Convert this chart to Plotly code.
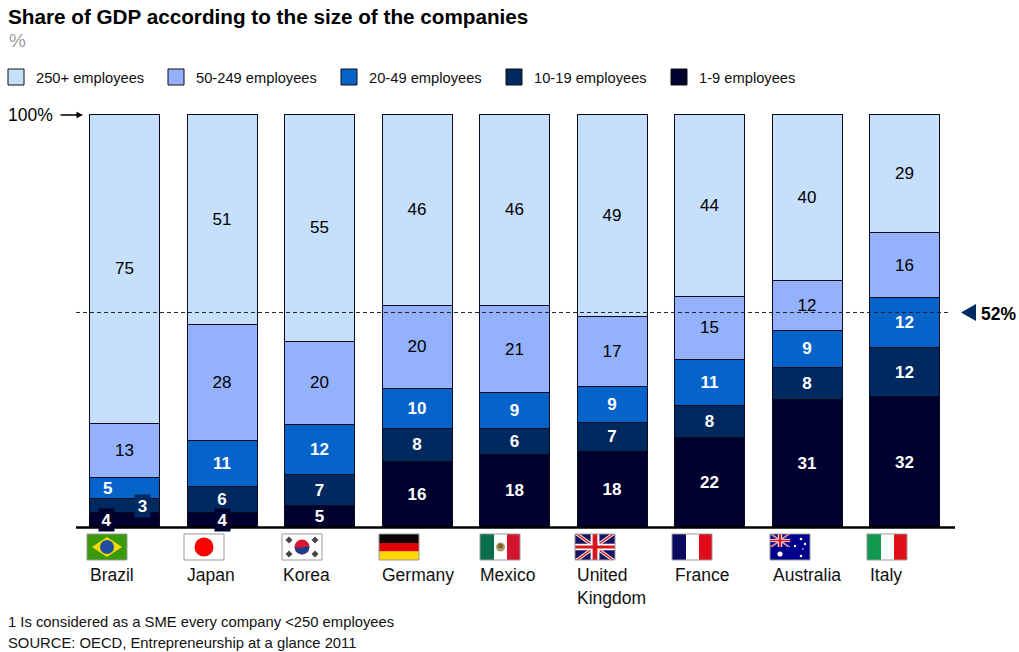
import plotly.graph_objects as go

W, H = 1019, 652

countries = ["Brazil", "Japan", "Korea", "Germany", "Mexico", "United Kingdom", "France", "Australia", "Italy"]

# segment heights, labels are these rounded
micro = [3.6, 3.6, 5.3, 16.0, 17.7, 18.4, 21.8, 31.0, 31.6]
small = [3.4, 6.3, 7.4, 8.0, 6.3, 7.0, 7.7, 7.7, 11.9]
lower_mid = [5.1, 11.1, 12.1, 9.7, 8.6, 8.7, 11.1, 9.0, 12.1]
upper_mid = [13.1, 28.1, 20.3, 20.1, 21.0, 17.0, 15.3, 12.1, 15.7]
large = [74.8, 50.9, 54.9, 46.2, 46.4, 48.9, 44.1, 40.2, 28.7]

series_names = ["1-9 employees", "10-19 employees", "20-49 employees", "50-249 employees", "250+ employees"]
series_values = [micro, small, lower_mid, upper_mid, large]
series_colors = ["#00002E", "#002960", "#0563C9", "#94B1FB", "#C6DFFB"]
label_colors = ["white", "white", "white", "black", "black"]

average_large = 52


def px(x):
    return x / W


def py(y):
    return 1 - y / H


fig = go.Figure()

for i in range(5):
    fig.add_trace(go.Bar(
        x=countries,
        y=series_values[i],
        name=series_names[i],
        marker=dict(color=series_colors[i], line=dict(color="#0A0A1E", width=1)),
        texttemplate="%{y:.0f}",
        textposition="inside",
        insidetextanchor="middle",
        textangle=0,
        constraintext="none",
        insidetextfont=dict(
            family="Liberation Sans", size=17, color=label_colors[i],
            weight="bold" if i < 3 else "normal",
        ),
    ))

# hide the Brazil/Japan labels that get drawn by hand further down
fig.data[0].texttemplate = ["", ""] + ["%{y:.0f}"] * 7
fig.data[1].texttemplate = [""] + ["%{y:.0f}"] * 8
fig.data[2].texttemplate = [""] + ["%{y:.0f}"] * 8

shapes = []


def rect(x0, y0, x1, y1, color, line=None):
    shapes.append(dict(type="rect", xref="paper", yref="paper", x0=px(x0), x1=px(x1), y0=py(y0), y1=py(y1),
                       fillcolor=color, line=dict(color=line or color, width=1 if line else 0)))


def poly(points, color):
    path = "M" + " L".join(f"{px(a):.5f},{py(b):.5f}" for a, b in points) + " Z"
    shapes.append(dict(type="path", xref="paper", yref="paper", path=path, fillcolor=color, line=dict(width=0)))


def dot(cx, cy, r, color):
    shapes.append(dict(type="circle", xref="paper", yref="paper", x0=px(cx - r), x1=px(cx + r),
                       y0=py(cy + r), y1=py(cy - r), fillcolor=color, line=dict(width=0)))


def band(x0, y0, x1, y1, t, color):
    # slanted stripe for the union jacks
    poly([(x0 - t, y0), (x0 + t, y0), (x1 + t, y1), (x1 - t, y1)], color)


def union_jack(x0, y0, x1, y1, blue):
    xm, ym = (x0 + x1) / 2, (y0 + y1) / 2
    w = x1 - x0
    rect(x0, y0, x1, y1, blue)
    band(x0 + w * 0.05, y0, x1 - w * 0.05, y1, w * 0.07, "white")
    band(x1 - w * 0.05, y0, x0 + w * 0.05, y1, w * 0.07, "white")
    band(x0 + w * 0.05, y0, x1 - w * 0.05, y1, w * 0.03, "#D8161E")
    band(x1 - w * 0.05, y0, x0 + w * 0.05, y1, w * 0.03, "#D8161E")
    rect(xm - w * 0.11, y0, xm + w * 0.11, y1, "white")
    rect(x0, ym - w * 0.08, x1, ym + w * 0.08, "white")
    rect(xm - w * 0.06, y0, xm + w * 0.06, y1, "#D8161E")
    rect(x0, ym - w * 0.04, x1, ym + w * 0.04, "#D8161E")


FT, FB = 534, 560


def flag_brazil(x):
    rect(x, FT, x + 40, FB, "#3A9A0A")
    poly([(x + 5, FT + 13), (x + 20, FT + 3), (x + 35, FT + 13), (x + 20, FT + 23)], "#F5DC00")
    dot(x + 20, FT + 13, 7, "#1F4FA0")


def flag_japan(x):
    rect(x, FT, x + 40, FB, "white")
    dot(x + 20, FT + 13, 9.5, "#FA0000")


def flag_korea(x):
    rect(x, FT, x + 40, FB, "white")
    dot(x + 20, FT + 13, 7.5, "#D8162E")
    poly([(x + 12.5, FT + 13), (x + 17, FT + 14), (x + 23, FT + 13), (x + 27.5, FT + 12),
          (x + 26, FT + 18), (x + 20, FT + 20.5), (x + 14, FT + 18)], "#1A3F90")
    for a, b in [(x + 7, FT + 6), (x + 33, FT + 6), (x + 7, FT + 20), (x + 33, FT + 20)]:
        poly([(a - 3.5, b), (a, b - 3.5), (a + 3.5, b), (a, b + 3.5)], "#444444")


def flag_germany(x):
    rect(x, FT, x + 40, FT + 9, "#050505")
    rect(x, FT + 9, x + 40, FT + 17.5, "#E00000")
    rect(x, FT + 17.5, x + 40, FB, "#FFD800")


def flag_mexico(x):
    rect(x, FT, x + 14, FB, "#0A6E4E")
    rect(x + 14, FT, x + 27, FB, "white")
    rect(x + 27, FT, x + 40, FB, "#D2142E")
    dot(x + 20.5, FT + 13, 4.5, "#A8A070")
    dot(x + 20.5, FT + 12, 2.5, "#8A5A20")


def flag_uk(x):
    union_jack(x, FT, x + 40, FB, "#15155E")


def flag_france(x):
    rect(x, FT, x + 14, FB, "#0A0A60")
    rect(x + 14, FT, x + 27, FB, "white")
    rect(x + 27, FT, x + 40, FB, "#E00A1A")


def flag_australia(x):
    rect(x, FT, x + 40, FB, "#00008C")
    union_jack(x, FT, x + 20, FT + 13, "#00008C")
    dot(x + 10, FT + 20, 2.6, "white")
    for a, b, r in [(31, 5, 1.3), (25, 12, 1.2), (35, 10, 1.2), (33, 15, 0.8), (31, 22, 1.3)]:
        dot(x + a, FT + b, r, "white")


def flag_italy(x):
    rect(x, FT, x + 14, FB, "#0F9A50")
    rect(x + 14, FT, x + 27, FB, "white")
    rect(x + 27, FT, x + 40, FB, "#E01018")


flag_x = [87, 184, 282, 379, 480, 575, 672, 770, 867]
flag_draw = [flag_brazil, flag_japan, flag_korea, flag_germany, flag_mexico, flag_uk, flag_france, flag_australia, flag_italy]
for fx, draw in zip(flag_x, flag_draw):
    draw(fx)
    rect(fx, FT, fx + 40, FB, "rgba(0,0,0,0)", "#999999")

# baseline, 52% marker
shapes.append(dict(type="line", xref="paper", yref="paper", x0=px(76), x1=px(955), y0=py(527.5), y1=py(527.5),
                   line=dict(color="black", width=2.5)))
shapes.append(dict(type="line", xref="paper", yref="y", x0=px(76), x1=px(948), y0=average_large, y1=average_large,
                   line=dict(color="#222222", width=1, dash="4px,3px")))
poly([(961, 312.5), (976, 304), (976, 321)], "#002960")

# legend
legend_x = [8, 168, 341, 506, 671]
for lx, i in zip(legend_x, [4, 3, 2, 1, 0]):
    rect(lx, 69, lx + 16, 85, series_colors[i], "#111111")

annotations = []


def note(x, y, text, size, color="black", bold=False, anchor="left"):
    annotations.append(dict(xref="paper", yref="paper", x=px(x), y=py(y), text=text, showarrow=False,
                            xanchor=anchor, yanchor="middle", align="left", borderpad=0, borderwidth=0,
                            font=dict(family="Liberation Sans", size=size, color=color,
                                      weight="bold" if bold else "normal")))


note(8, 17, "Share of GDP according to the size of the companies", 20.7, bold=True)
note(9, 41, "%", 19, color="#A0A0A0")
for lx, i in zip(legend_x, [4, 3, 2, 1, 0]):
    note(lx + 28, 78, series_names[i], 14.7, color="#111111")
note(8, 115, "100%", 17.5)
note(981, 314, "52%", 17.5, bold=True)
note(8, 622, "1 Is considered as a SME every company &lt;250 employees", 14.8, color="#111111")
note(8, 643, "SOURCE: OECD, Entrepreneurship at a glance 2011", 14.8, color="#111111")

label_x = [90, 187, 283, 382, 480, 577, 675, 773, 870]
for lx, name in zip(label_x, countries):
    if name == "United Kingdom":
        note(lx, 586, "United<br>Kingdom", 17.5, color="#111111")
    else:
        note(lx, 575, name, 17.5, color="#111111")

# 100% arrow
annotations.append(dict(xref="paper", yref="paper", x=px(83), y=py(115), ax=-24, ay=0,
                        text="", showarrow=True, arrowhead=2, arrowsize=1, arrowwidth=1.3, arrowcolor="black"))

# the labels too small for their segment sit on a box of the same colour
for cx, cy, label, color in [(106.5, 520, str(round(micro[0])), series_colors[0]),
                             (142.5, 506, str(round(small[0])), series_colors[1]),
                             (222, 520, str(round(micro[1])), series_colors[0])]:
    annotations.append(dict(xref="paper", yref="paper", x=px(cx), y=py(cy), text=label, showarrow=False,
                            xanchor="center", yanchor="middle", width=15, height=22, bgcolor=color,
                            borderpad=0, font=dict(family="Liberation Sans", size=17, color="white", weight="bold")))
annotations.append(dict(xref="paper", yref="paper", x=px(107), y=py(488), text=str(round(lower_mid[0])), showarrow=False,
                        xanchor="center", yanchor="middle",
                        font=dict(family="Liberation Sans", size=17, color="white", weight="bold")))

fig.update_layout(
    barmode="stack",
    bargap=0.282,
    showlegend=False,
    width=W,
    height=H,
    margin=dict(l=0, r=0, t=0, b=0),
    paper_bgcolor="white",
    plot_bgcolor="white",
    shapes=shapes,
    annotations=annotations,
)

# the plot area fills the page: 97.5 px per category, 4.135 px per percent
fig.update_xaxes(visible=False, range=[-124.5 / 97.5, (W - 124.5) / 97.5], fixedrange=True)
fig.update_yaxes(visible=False, range=[-(H - 527.5) / 4.135, 527.5 / 4.135], fixedrange=True)

fig.write_html("out.html", config=dict(displayModeBar=False), post_script="document.body.style.margin='0';")
